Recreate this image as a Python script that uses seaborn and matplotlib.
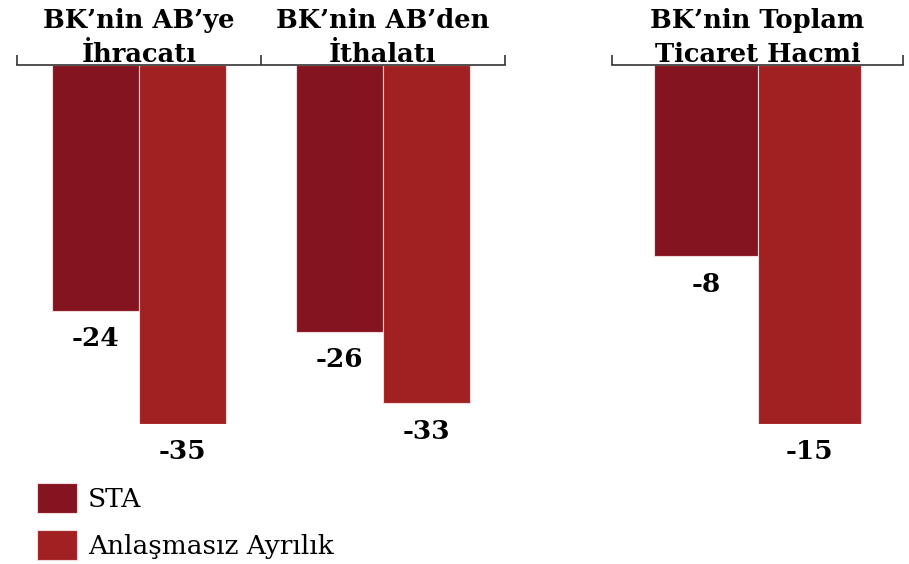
import pandas as pd
import matplotlib.pyplot as plt
import seaborn as sns

# values
left_groups = ["BK’nin AB’ye\nİhracatı", "BK’nin AB’den\nİthalatı"]
right_groups = ["BK’nin Toplam\nTicaret Hacmi"]
scenarios = ["STA", "Anlaşmasız Ayrılık"]
left_sta = [-24, -26]
left_noDeal = [-35, -33]
right_sta = [-8]
right_noDeal = [-15]

colors = ["#84141f", "#a12022"]

left_df = pd.DataFrame({
    "group": left_groups * 2,
    "scenario": [scenarios[0]] * 2 + [scenarios[1]] * 2,
    "value": left_sta + left_noDeal,
})
right_df = pd.DataFrame({
    "group": right_groups * 2,
    "scenario": [scenarios[0], scenarios[1]],
    "value": right_sta + right_noDeal,
})

sns.set_style("white")
plt.rcParams["font.family"] = ["DejaVu Serif"]
plt.rcParams["text.color"] = "black"

fig = plt.figure(figsize=(9.09, 5.64), dpi=100)
ax1 = fig.add_axes([17 / 909, 1 - 424 / 564, 488 / 909, 359 / 564])
ax2 = fig.add_axes([612 / 909, 1 - 424 / 564, 291 / 909, 359 / 564])

for ax, df, groups, lo in [(ax1, left_df, left_groups, -35), (ax2, right_df, right_groups, -15)]:
    sns.barplot(data=df, x="group", y="value", hue="scenario", order=groups,
                hue_order=scenarios, palette=colors, saturation=1, width=0.71, ax=ax,
                edgecolor="#f2dada", linewidth=0.8, legend=False)
    ax.set_ylim(lo, 0)
    ax.set_xlim(-0.5, len(groups) - 0.5)
    ax.set_xlabel("")
    ax.set_ylabel("")
    ax.set_yticks([])
    for s in ["left", "right", "bottom"]:
        ax.spines[s].set_visible(False)
    ax.spines["top"].set_color("#333333")
    ax.spines["top"].set_linewidth(1.2)
    ax.xaxis.tick_top()
    ax.set_xticks([i - 0.5 for i in range(len(groups) + 1)])
    ax.set_xticklabels([])
    ax.tick_params(axis="x", direction="out", length=7, width=1.2, color="#333333")
    for i, g in enumerate(groups):
        ax.annotate(g, xy=(i, 1), xycoords=("data", "axes fraction"),
                    xytext=(0, -1.5), textcoords="offset points",
                    ha="center", va="bottom", fontsize=18.5, fontweight="bold",
                    linespacing=1.45, color="black")
    for p in ax.patches:
        h = p.get_height()
        if p.get_width() == 0:
            continue
        ax.annotate(f"{h:.0f}", xy=(p.get_x() + p.get_width() / 2, h),
                    xytext=(0, -20), textcoords="offset points",
                    ha="center", va="center", fontsize=19, fontweight="bold",
                    color="black", annotation_clip=False)

handles = [plt.Rectangle((0, 0), 1, 1, facecolor=c, edgecolor="#f2dada", linewidth=0.8) for c in colors]
fig.legend(handles, scenarios, loc="upper left", bbox_to_anchor=(37 / 909, 1 - 483 / 564),
           frameon=False, fontsize=19, handlelength=1.5, handleheight=1.36,
           handletextpad=0.42, labelspacing=0.66, borderpad=0, borderaxespad=0,
           labelcolor="black")

plt.savefig("out.png", dpi=100)
